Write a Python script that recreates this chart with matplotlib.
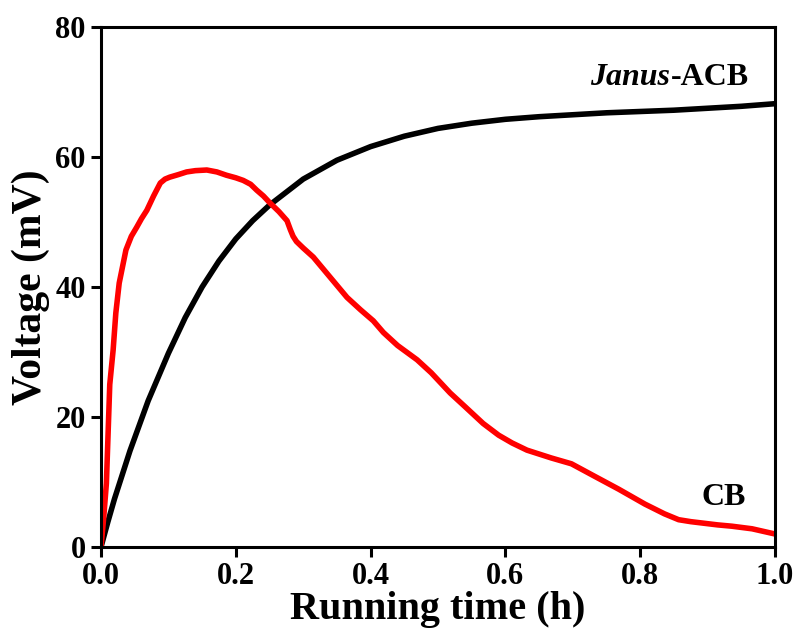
import matplotlib
matplotlib.use("Agg")
import matplotlib.pyplot as plt

# Janus-ACB (black)
t_acb = [0.0, 0.01, 0.02, 0.043, 0.07, 0.1, 0.125, 0.15, 0.175, 0.2, 0.225, 0.25,
         0.3, 0.35, 0.4, 0.45, 0.5, 0.55, 0.6, 0.65, 0.7, 0.75, 0.8, 0.85,
         0.9, 0.95, 1.0]
v_acb = [0.0, 3.8, 7.4, 14.8, 22.5, 29.8, 35.3, 40.0, 44.0, 47.4, 50.2, 52.6,
         56.6, 59.5, 61.6, 63.2, 64.4, 65.2, 65.8, 66.2, 66.5, 66.8, 67.0, 67.2,
         67.5, 67.8, 68.2]

# CB (red)
t_cb = [0.0, 0.004, 0.008, 0.013, 0.018, 0.022, 0.027, 0.037, 0.045, 0.053, 0.06,
        0.068, 0.078, 0.088, 0.095, 0.102, 0.115, 0.127, 0.14,
        0.157, 0.172, 0.186, 0.2, 0.211, 0.222, 0.231, 0.241, 0.251, 0.264,
        0.276, 0.281, 0.285, 0.29, 0.3, 0.315, 0.34, 0.365,
        0.385, 0.404, 0.419, 0.44, 0.469, 0.49, 0.518, 0.54, 0.567, 0.59,
        0.61, 0.632, 0.65, 0.668, 0.698, 0.732, 0.768,
        0.807, 0.836, 0.857, 0.875, 0.891, 0.915, 0.936, 0.966, 1.0]
v_cb = [0.0, 4.5, 9.8, 25.0, 30.3, 36.0, 40.6, 45.7, 47.8, 49.2, 50.5,
        51.8, 54.0, 56.0, 56.6, 56.9, 57.3, 57.7, 57.9,
        58.0, 57.7, 57.2, 56.8, 56.4, 55.8, 54.9, 54.0, 52.9, 51.6,
        50.2, 48.8, 47.8, 47.0, 46.0, 44.6, 41.5, 38.4,
        36.5, 34.8, 33.0, 31.0, 28.8, 26.8, 23.7, 21.6, 19.0, 17.2,
        16.0, 14.9, 14.3, 13.7, 12.8, 10.9, 8.9,
        6.6, 5.1, 4.2, 3.9, 3.7, 3.4, 3.2, 2.8, 2.0]

x_ticks = [0.0, 0.2, 0.4, 0.6, 0.8, 1.0]
y_ticks = [0, 20, 40, 60, 80]

plt.rcParams['font.family'] = ['Liberation Serif', 'DejaVu Serif']
plt.rcParams['font.weight'] = 'bold'

fig = plt.figure(figsize=(7.98, 6.41), dpi=100)
ax = fig.add_axes([101/798, 1 - 547/641, (775-101)/798, (547-27)/641])

ax.plot(t_acb, v_acb, color='black', lw=4.0, solid_capstyle='round', solid_joinstyle='round')
ax.plot(t_cb, v_cb, color='#ff0000', lw=4.0, solid_capstyle='round', solid_joinstyle='round')

ax.set_xlim(0, 1.0)
ax.set_ylim(0, 80)
ax.set_xticks(x_ticks)
ax.set_xticklabels([f"{v:.1f}" for v in x_ticks])
ax.set_yticks(y_ticks)
ax.set_yticklabels([str(v) for v in y_ticks])

for s in ax.spines.values():
    s.set_linewidth(2.2)
ax.tick_params(direction='out', length=7, width=2.2, labelsize=22, pad=4)
for lbl in ax.get_xticklabels() + ax.get_yticklabels():
    lbl.set_fontweight('bold')

ax.set_xlabel('Running time (h)', fontsize=29, fontweight='bold', labelpad=0)
ax.set_ylabel('Voltage (mV)', fontsize=30, fontweight='bold', labelpad=4)

ax.text(0.845, 72.2, 'Janus', fontsize=23, fontweight='bold', fontstyle='italic',
        ha='right', va='center')
ax.text(0.845, 72.2, '-ACB', fontsize=23, fontweight='bold', ha='left', va='center')
ax.text(0.924, 7.6, 'CB', fontsize=23, fontweight='bold', ha='center', va='center')

fig.savefig('out.png', dpi=100)
